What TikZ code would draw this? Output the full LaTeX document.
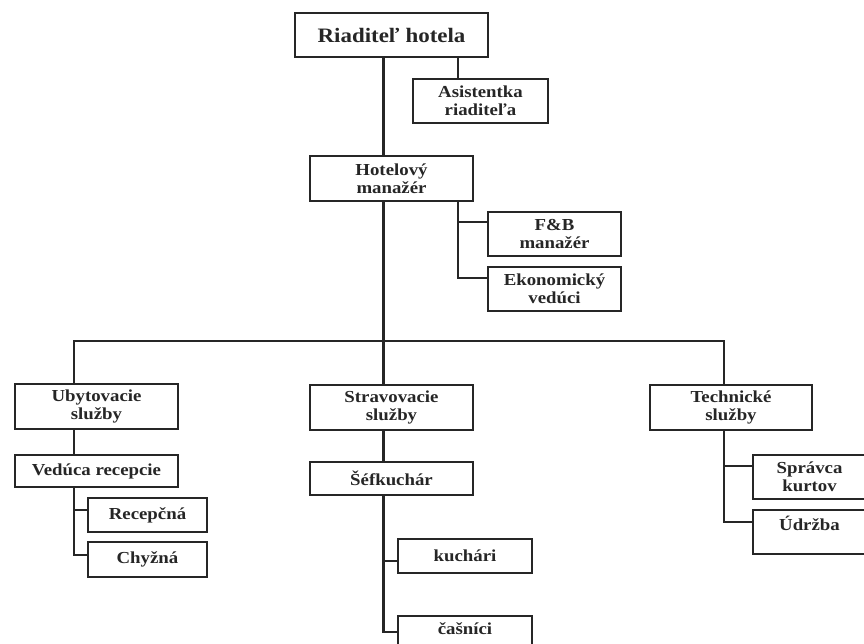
\documentclass[tikz,border=0pt]{standalone}
\usepackage{fontspec}
\setmainfont{Liberation Serif}[FakeStretch=1.12]
\begin{document}
\begin{tikzpicture}[x=1pt,y=-1pt,
  ln/.style={line width=2.2pt, draw=black!85, line join=miter},
  box/.style={draw=black!85, line width=2.2pt, inner sep=0pt, align=center,
    font=\bfseries\fontsize{16.8}{17.5}\selectfont, text=black!85},
  sz/.style n args={2}{minimum width=#1pt, minimum height=#2pt}]
\useasboundingbox (0,0) rectangle (864,643);
\fill[white] (0,0) rectangle (864,643);
\clip (0,0) rectangle (864,643);
% nodes
\node[box,sz={193}{44},font=\bfseries\fontsize{20.5}{20}\selectfont] (dir) at (391.5,35) {Riaditeľ hotela};
\node[box,sz={135}{44}] (asst) at (480.5,101) {Asistentka\\riaditeľa};
\node[box,sz={163}{45}] (hm) at (391.5,178.5) {Hotelový\\manažér};
\node[box,sz={133}{44}] (fb) at (554.5,234) {F\&B\\manažér};
\node[box,sz={133}{44}] (eko) at (554.5,289) {Ekonomický\\vedúci};
\node[box,sz={163}{45}] (uby) at (96.5,406.5) {Ubytovacie\\služby};
\node[box,sz={163}{32}] (ved) at (96.5,471) {Vedúca recepcie};
\node[box,sz={119}{34}] (rec) at (147.5,515) {Recepčná};
\node[box,sz={119}{35}] (chy) at (147.5,559.5) {Chyžná};
\node[box,sz={163}{45}] (str) at (391.5,407.5) {Stravovacie\\služby};
\node[box,sz={163}{33}] (sef) at (391.5,478.5) {Šéfkuchár};
\node[box,sz={134}{34}] (kuc) at (465,556) {kuchári};
\node[box,sz={134}{44},text height=18pt,text depth=26pt] (cas) at (465,638) {čašníci};
\node[box,sz={162}{45}] (tech) at (731,407.5) {Technické\\služby};
\node[box,sz={113}{44}] (spr) at (809.5,477) {Správca\\kurtov};
\node[box,sz={113}{44},text height=20pt,text depth=24pt] (udr) at (809.5,532) {Údržba};
% junction coordinates
\coordinate (mx) at (383.5,0);
\coordinate (ax) at (458,0);
\coordinate (fbj) at (458,222);
\coordinate (hb) at (458,278);
\coordinate (bl) at (74,341);
\coordinate (br) at (724,341);
\coordinate (vj1) at (74,510);
\coordinate (vj2) at (74,555);
\coordinate (sj1) at (383.5,561);
\coordinate (sj2) at (383.5,632);
\coordinate (tj1) at (724,466);
\coordinate (tj2) at (724,522);
% connectors
\draw[ln] (dir.south -| mx) -- (hm.north -| mx);
\draw[ln] (dir.south -| ax) -- (asst.north -| ax);
\draw[ln] (hm.south -| hb) -- (hb) -- (hb -| eko.west);
\draw[ln] (fbj) -- (fbj -| fb.west);
\draw[ln] (hm.south -| mx) -- (str.north -| mx);
\draw[ln] (uby.north -| bl) -- (bl) -- (br) -- (tech.north -| br);
\draw[ln] (uby.south -| bl) -- (ved.north -| bl);
\draw[ln] (ved.south -| bl) -- (vj2) -- (vj2 -| chy.west);
\draw[ln] (vj1) -- (vj1 -| rec.west);
\draw[ln] (str.south -| mx) -- (sef.north -| mx);
\draw[ln] (sef.south -| mx) -- (sj2) -- (sj2 -| cas.west);
\draw[ln] (sj1) -- (sj1 -| kuc.west);
\draw[ln] (tech.south -| br) -- (tj2) -- (tj2 -| udr.west);
\draw[ln] (tj1) -- (tj1 -| spr.west);
\end{tikzpicture}
\end{document}
